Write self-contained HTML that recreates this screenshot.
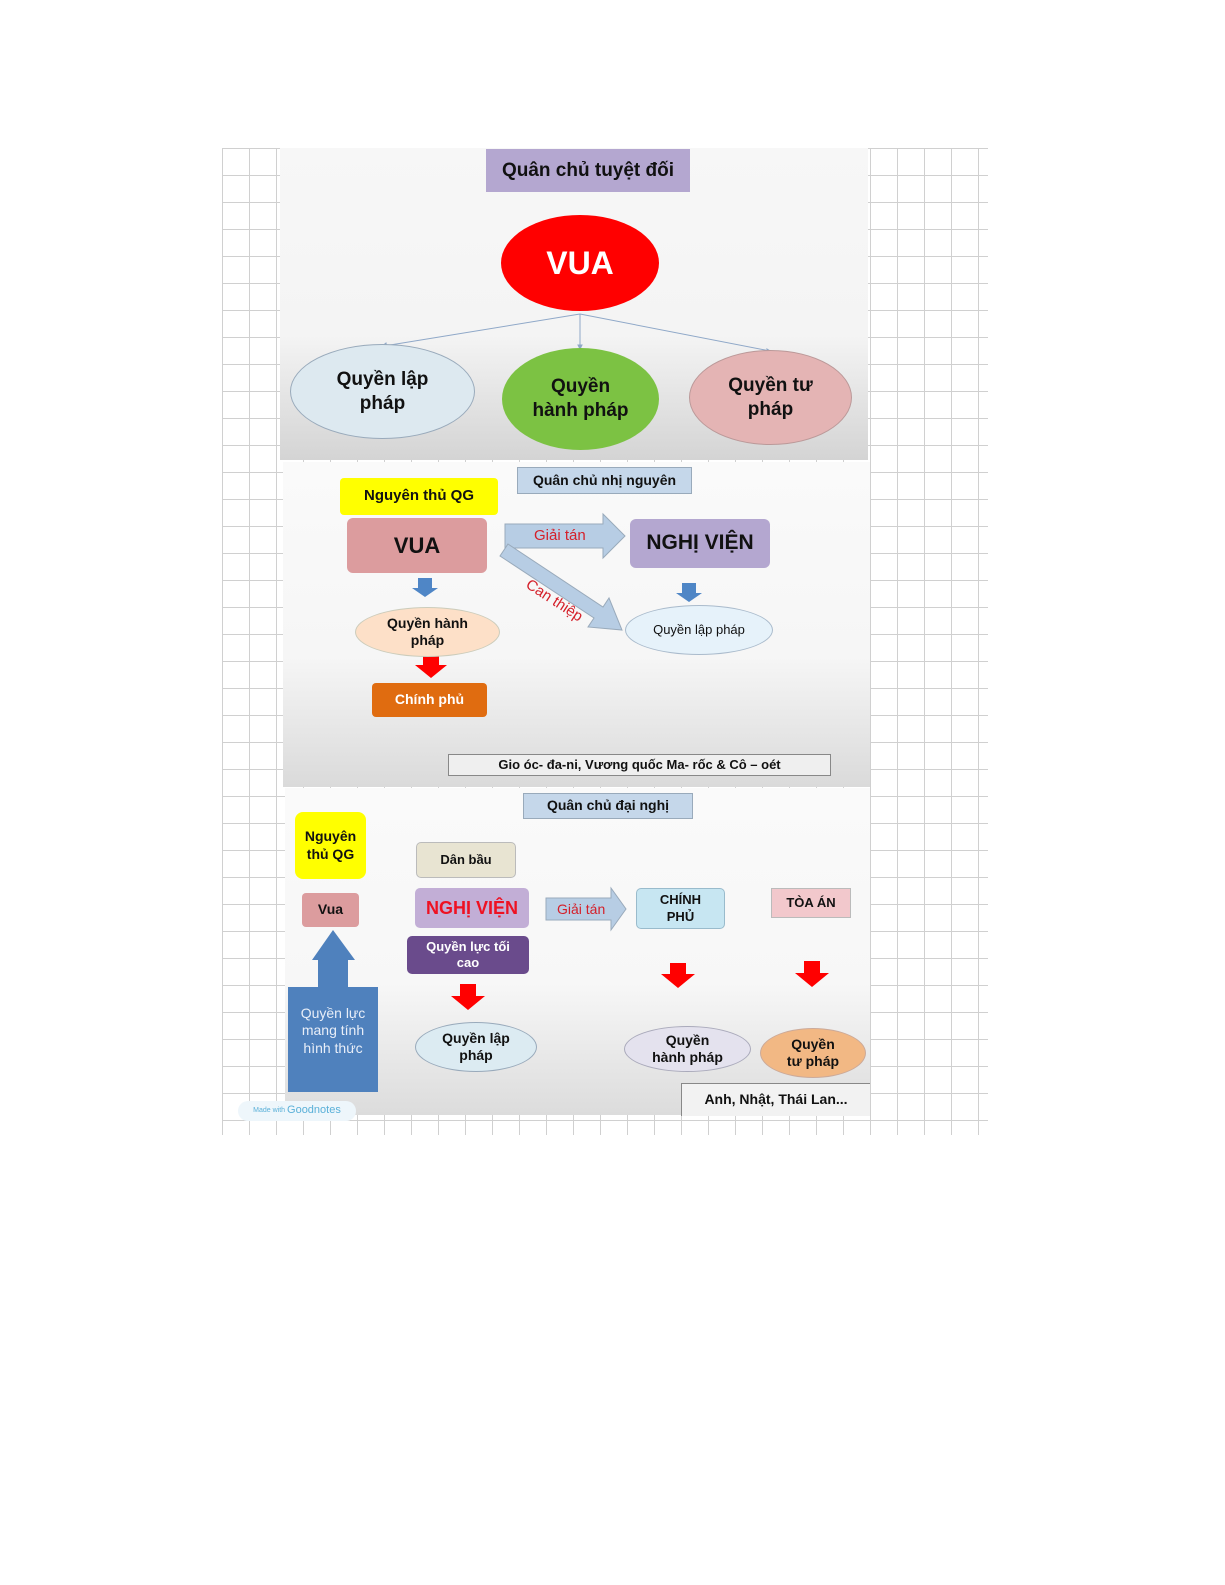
<!DOCTYPE html>
<html><head><meta charset="utf-8"><style>
body{margin:0;width:1225px;height:1585px;background:#fff;position:relative;overflow:hidden;font-family:"Liberation Sans",sans-serif}
.a{position:absolute;box-sizing:border-box;display:flex;align-items:center;justify-content:center;text-align:center;font-weight:bold;color:#111;line-height:1.25}
.grid{position:absolute;left:222px;top:148px;width:766px;height:987px;
background-image:linear-gradient(#d0d0d0 1px,transparent 1px),linear-gradient(90deg,#d0d0d0 1px,transparent 1px);
background-size:27px 27px;background-position:0 0,0 0}
.p{position:absolute}
.ell{border-radius:50%}
</style></head><body>
<div class="grid"></div>
<div class="p" style="left:280px;top:148px;width:588px;height:312px;background:linear-gradient(#f7f7f7 0%,#f4f4f4 60%,#d4d4d4 100%)"></div>
<div class="p" style="left:283px;top:462px;width:587px;height:325px;background:linear-gradient(#fafafa 0%,#f6f6f6 60%,#dadada 100%)"></div>
<div class="p" style="left:285px;top:788px;width:585px;height:327px;background:linear-gradient(#fafafa 0%,#f7f7f7 60%,#dcdcdc 100%)"></div>

<div class="a" style="left:486px;top:149px;width:204px;height:43px;background:#b4a7d0;font-size:19px">Quân chủ tuyệt đối</div>
<div class="a ell" style="left:501px;top:215px;width:158px;height:96px;background:#ff0000;color:#fff;font-size:32px">VUA</div>
<svg class="p" style="left:280px;top:148px" width="588" height="312">
<g stroke="#8fa8c8" stroke-width="1" fill="#8fa8c8">
<line x1="300" y1="166" x2="104" y2="198"/><line x1="300" y1="166" x2="300" y2="198"/><line x1="300" y1="166" x2="490" y2="203"/>
<polygon points="101,199 106,195 107,200"/><polygon points="298,197 302,197 300,201"/><polygon points="492,204 487,201 488,206"/>
</g></svg>
<div class="a ell" style="left:290px;top:344px;width:185px;height:95px;background:#dde9f0;border:1px solid #9ab;font-size:19px">Quyền lập<br>pháp</div>
<div class="a ell" style="left:502px;top:348px;width:157px;height:102px;background:#7cc243;font-size:19px">Quyền<br>hành pháp</div>
<div class="a ell" style="left:689px;top:350px;width:163px;height:95px;background:#e4b4b4;border:1px solid #b99;font-size:19px">Quyền tư<br>pháp</div>

<div class="a" style="left:517px;top:467px;width:175px;height:27px;background:#c5d7ea;border:1px solid #9ab;font-size:14px">Quân chủ nhị nguyên</div>
<div class="a" style="left:340px;top:478px;width:158px;height:37px;background:#ffff00;border-radius:4px;font-size:15px">Nguyên thủ QG</div>
<div class="a" style="left:347px;top:518px;width:140px;height:55px;background:#dc9c9e;border-radius:6px;font-size:22px">VUA</div>
<div class="a" style="left:630px;top:519px;width:140px;height:49px;background:#b4a7d0;border-radius:6px;font-size:21px">NGHỊ VIỆN</div>
<svg class="p" style="left:283px;top:462px" width="587" height="325">
<polygon points="222,62 320,62 320,52 342,74 320,96 320,86 222,86" fill="#b7cde4" stroke="#9ab"/>
<polygon points="225,82 320,145 326,136 339,168 305,165 311,156 217,94" fill="#b7cde4" stroke="#9ab"/>
<polygon points="135,116 149,116 149,126 155,126 142,135 129,126 135,126" fill="#4f86c6"/>
<polygon points="399,121 413,121 413,131 419,131 406,140 393,131 399,131" fill="#4f86c6"/>
<polygon points="140,194 156,194 156,203 164,203 148,216 132,203 140,203" fill="#ff0000"/>
</svg>
<div class="p" style="left:534px;top:527px;font-size:15px;color:#d4202a">Giải tán</div>
<div class="p" style="left:532px;top:576px;font-size:15px;color:#d4202a;transform:rotate(33deg);transform-origin:0 0">Can thiệp</div>
<div class="a ell" style="left:355px;top:607px;width:145px;height:50px;background:#fde0c8;border:1px solid #ccb;font-size:14px">Quyền hành<br>pháp</div>
<div class="a ell" style="left:625px;top:605px;width:148px;height:50px;background:#e6f2fa;border:1px solid #abc;font-size:13px;font-weight:normal">Quyền lập pháp</div>
<div class="a" style="left:372px;top:683px;width:115px;height:34px;background:#e06c10;color:#fff;border-radius:4px;font-size:14px">Chính phủ</div>
<div class="a" style="left:448px;top:754px;width:383px;height:22px;background:#efefef;border:1px solid #888;font-size:13px">Gio óc- đa-ni, Vương quốc Ma- rốc &amp; Cô – oét</div>

<div class="a" style="left:523px;top:793px;width:170px;height:26px;background:#c5d7ea;border:1px solid #9ab;font-size:14px">Quân chủ đại nghị</div>
<div class="a" style="left:295px;top:812px;width:71px;height:67px;background:#ffff00;border-radius:8px;font-size:14px">Nguyên<br>thủ QG</div>
<div class="a" style="left:302px;top:893px;width:57px;height:34px;background:#dc9c9e;border-radius:4px;font-size:14px">Vua</div>
<div class="a" style="left:416px;top:842px;width:100px;height:36px;background:#e8e4d2;border:1px solid #bbb;border-radius:5px;font-size:13px">Dân bầu</div>
<div class="a" style="left:415px;top:888px;width:114px;height:40px;background:#c2aed6;border-radius:5px;font-size:18px;color:#ee1122">NGHỊ VIỆN</div>
<div class="a" style="left:407px;top:936px;width:122px;height:38px;background:#6a4b8c;border-radius:5px;font-size:13px;color:#fff">Quyền lực tối<br>cao</div>
<div class="a" style="left:636px;top:888px;width:89px;height:41px;background:#c7e6f2;border:1px solid #9bc;border-radius:5px;font-size:13px">CHÍNH<br>PHỦ</div>
<div class="a" style="left:771px;top:888px;width:80px;height:30px;background:#f2c8cc;border:1px solid #bbb;font-size:13px">TÒA ÁN</div>
<svg class="p" style="left:285px;top:788px" width="585" height="327">
<rect x="3" y="199" width="90" height="105" fill="#4f81bd"/>
<polygon points="33,199 33,172 27,172 48,142 70,172 63,172 63,199" fill="#4f81bd"/>
<polygon points="261,110 326,110 326,100 341,121 326,142 326,132 261,132" fill="#b7cde4" stroke="#9ab"/>
<polygon points="175,196 191,196 191,208 200,208 183,222 166,208 175,208" fill="#ff0000"/>
<polygon points="385,175 401,175 401,186 410,186 393,200 376,186 385,186" fill="#ff0000"/>
<polygon points="519,173 535,173 535,185 544,185 527,199 510,185 519,185" fill="#ff0000"/>
</svg>
<div class="p" style="left:557px;top:901px;font-size:14px;color:#d4202a">Giải tán</div>
<div class="a" style="left:288px;top:998px;width:90px;height:66px;color:#e8eef8;font-weight:normal;font-size:14px">Quyền lực<br>mang tính<br>hình thức</div>
<div class="a ell" style="left:415px;top:1022px;width:122px;height:50px;background:#dcebf2;border:1px solid #9ab;font-size:14px">Quyền lập<br>pháp</div>
<div class="a ell" style="left:624px;top:1026px;width:127px;height:46px;background:#e4e2ee;border:1px solid #aab;font-size:14px">Quyền<br>hành pháp</div>
<div class="a ell" style="left:760px;top:1028px;width:106px;height:50px;background:#f2b884;border:1px solid #ca9;font-size:14px">Quyền<br>tư pháp</div>
<div class="a" style="left:681px;top:1083px;width:189px;height:33px;background:#f2f2f2;border-left:1px solid #888;border-top:1px solid #888;font-size:14px">Anh, Nhật, Thái Lan...</div>
<div class="a" style="left:238px;top:1101px;width:118px;height:20px;background:#eef6fb;border-radius:10px;font-size:11px;font-weight:normal;color:#5ab0d8"><span style="font-size:7px">Made with&nbsp;</span>Goodnotes</div>
</body></html>
